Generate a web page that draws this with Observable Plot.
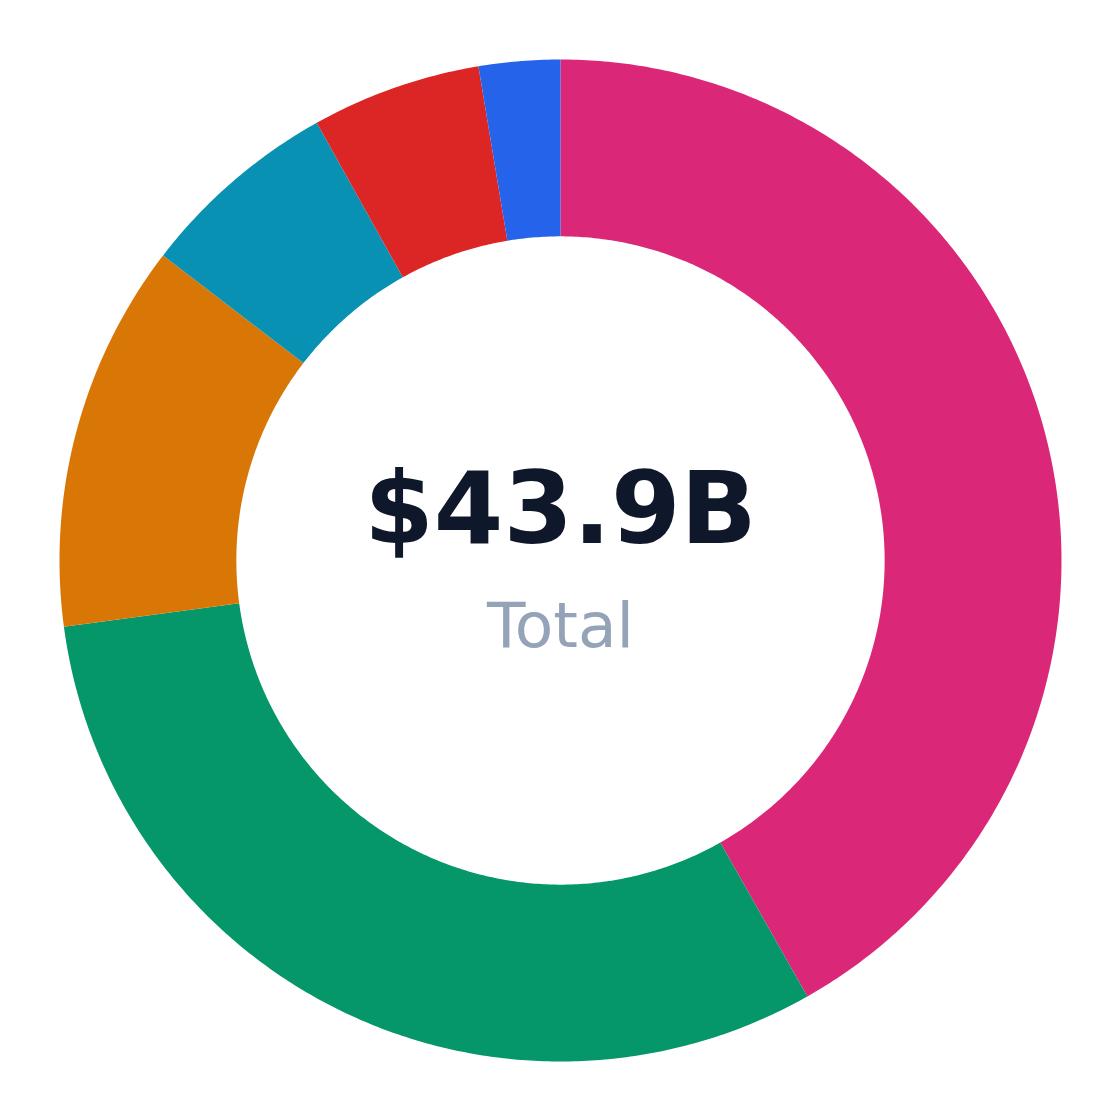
<!DOCTYPE html>
<html>
<head>
<meta charset="utf-8">
<script src="https://cdn.jsdelivr.net/npm/d3@7"></script>
<script src="https://cdn.jsdelivr.net/npm/@observablehq/plot@0.6"></script>
<style>
  html, body { margin: 0; padding: 0; background: #ffffff; }
  #chart { width: 1120px; height: 1120px; }
</style>
</head>
<body>
<div id="chart"></div>
<script>
// Data (in $B, clockwise from 12 o'clock)
const categories = ["Segment A", "Segment B", "Segment C", "Segment D", "Segment E", "Segment F"];
const values = [18.35, 13.65, 5.5, 2.85, 2.4, 1.15];
const colors = ["#db2777", "#059669", "#d97706", "#0891b2", "#dc2626", "#2563eb"];
const centerLabel = "Total";

const total = d3.sum(values);
const totalLabel = "$" + total.toFixed(1) + "B";

const innerRatio = 0.647;
const arcs = d3.pie().sort(null).value((d) => d.value)(
  categories.map((name, i) => ({name, value: values[i]}))
);

// Build ring-slice outlines in the [-1, 1] data space (angles from the pie layout)
const ringPoints = [];
for (const a of arcs) {
  const n = Math.max(8, Math.ceil((a.endAngle - a.startAngle) / (Math.PI * 2) * 720));
  for (let k = 0; k <= n; k++) {
    const t = a.startAngle + (a.endAngle - a.startAngle) * k / n;
    ringPoints.push({name: a.data.name, x: Math.sin(t), y: Math.cos(t)});
  }
  for (let k = n; k >= 0; k--) {
    const t = a.startAngle + (a.endAngle - a.startAngle) * k / n;
    ringPoints.push({name: a.data.name, x: innerRatio * Math.sin(t), y: innerRatio * Math.cos(t)});
  }
}

const chart = Plot.plot({
  width: 1120,
  height: 1120,
  marginTop: 59,
  marginBottom: 59,
  marginLeft: 59,
  marginRight: 59,
  x: {domain: [-1, 1], axis: null},
  y: {domain: [-1, 1], axis: null},
  color: {domain: categories, range: colors},
  style: {background: "#ffffff"},
  marks: [
    Plot.line(ringPoints, {
      x: "x", y: "y", z: "name", fill: "name", stroke: "none", curve: "linear"
    }),
    Plot.text([totalLabel], {
      x: () => 0, y: () => 0.098, text: (d) => d,
      fontSize: 100, fontWeight: "bold", fontFamily: "DejaVu Sans",
      fill: "#0f172a", textAnchor: "middle"
    }),
    Plot.text([centerLabel], {
      x: () => 0, y: () => -0.132, text: (d) => d,
      fontSize: 63, fontFamily: "DejaVu Sans",
      fill: "#94a3b8", textAnchor: "middle"
    })
  ]
});
document.getElementById("chart").appendChild(chart);
</script>
</body>
</html>
